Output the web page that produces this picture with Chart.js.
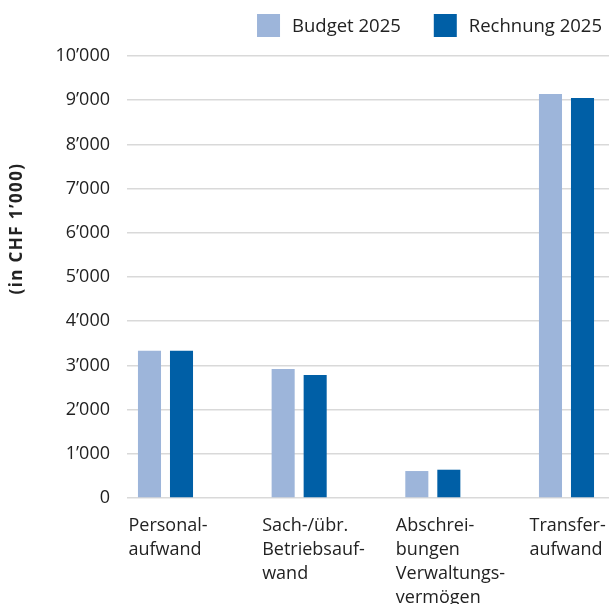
<!DOCTYPE html>
<html>
<head>
<meta charset="utf-8">
<script src="https://cdn.jsdelivr.net/npm/chart.js@4.4.1/dist/chart.umd.min.js"></script>
<style>
  html, body { margin: 0; padding: 0; background: #fff; overflow: hidden; }
  #wrap { width: 609px; height: 604px; position: relative; }
</style>
</head>
<body>
<div id="wrap"><canvas id="barCanvas"></canvas></div>
<script>
// Daten (in CHF 1'000)
const categories = [
    ['Personal-', 'aufwand'],
    ['Sach-/übr.', 'Betriebsauf-', 'wand'],
    ['Abschrei-', 'bungen', 'Verwaltungs-', 'vermögen'],
    ['Transfer-', 'aufwand']
];
const budget2025 = [3330, 2920, 610, 9140];
const rechnung2025 = [3330, 2780, 640, 9050];
const yTicks = [0, 1000, 2000, 3000, 4000, 5000, 6000, 7000, 8000, 9000, 10000];

const FONT = "'Open Sans', 'Noto Sans', sans-serif";
const TEXT = '#222222';

// titre de l'axe y, dessiné à la main pour le placer comme l'original
const yTitlePlugin = {
    id: 'yTitle',
    afterDraw(chart) {
        const ctx = chart.ctx;
        ctx.save();
        ctx.translate(17, 228.5);
        ctx.rotate(-Math.PI / 2);
        ctx.font = 'bold 17px ' + FONT;
        ctx.letterSpacing = '1.4px';
        ctx.fillStyle = TEXT;
        ctx.textAlign = 'center';
        ctx.textBaseline = 'middle';
        ctx.fillText('(in CHF 1’000)', 0, 0);
        ctx.restore();
    }
};

// légende alignée à droite, comme dans l'original
const legendPlugin = {
    id: 'rightLegend',
    afterDraw(chart) {
        const ctx = chart.ctx;
        ctx.save();
        ctx.font = '18.5px ' + FONT;
        ctx.textBaseline = 'middle';
        ctx.textAlign = 'left';
        let right = 602;
        const box = 23, gap = 12, between = 33, cy = 25.5;
        const ds = chart.data.datasets.slice().reverse();
        ds.forEach(d => {
            const w = ctx.measureText(d.label).width;
            const tx = right - w;
            ctx.fillStyle = TEXT;
            ctx.fillText(d.label, tx, cy + 1);
            ctx.fillStyle = d.backgroundColor;
            ctx.fillRect(tx - gap - box, cy - box / 2, box, box);
            right = tx - gap - box - between;
        });
        ctx.restore();
    }
};

function fmt(v) {
    return String(v).replace(/\B(?=(\d{3})+(?!\d))/g, '’');
}

const ctx = document.getElementById('barCanvas').getContext('2d');
const myChart = new Chart(ctx, {
    type: 'bar',
    data: {
        datasets: [{
            label: 'Budget 2025',
            data: budget2025.map((v, i) => ({ x: i, y: v })),
            backgroundColor: '#9db5da'
        }, {
            label: 'Rechnung 2025',
            data: rechnung2025.map((v, i) => ({ x: i, y: v })),
            backgroundColor: '#005fa6'
        }]
    },
    plugins: [yTitlePlugin, legendPlugin],
    options: {
        responsive: true,
        maintainAspectRatio: false,
        animation: false,
        categoryPercentage: 0.479,
        barPercentage: 0.72,
        layout: { padding: { top: 56, right: 0, left: 0, bottom: 0 } },
        plugins: {
            legend: { display: false },
            tooltip: { enabled: false }
        },
        scales: {
            x: {
                type: 'linear',
                offset: false,
                min: -0.288,
                max: 3.318,
                grid: { display: false },
                border: { display: false },
                afterBuildTicks(scale) {
                    scale.ticks = categories.map((c, i) => ({ value: i }));
                },
                afterFit(scale) {
                    scale.height = 106;
                    scale.paddingLeft = 0;
                    scale.paddingRight = 0;
                },
                ticks: {
                    align: 'start',
                    labelOffset: -37,
                    padding: 8,
                    autoSkip: false,
                    maxRotation: 0,
                    color: TEXT,
                    font: { family: FONT, size: 18, lineHeight: 24 / 18 },
                    callback: (v) => categories[v]
                }
            },
            y: {
                min: 0,
                max: 10000,
                afterBuildTicks(scale) {
                    scale.ticks = yTicks.map(v => ({ value: v }));
                },
                afterFit(scale) {
                    scale.width = 127;
                },
                border: { display: false },
                grid: { color: '#d9d9d9', lineWidth: 1.5, drawTicks: false },
                ticks: {
                    padding: 17,
                    color: TEXT,
                    font: { family: FONT, size: 18 },
                    callback: (v) => fmt(v)
                }
            }
        }
    }
});
</script>
</body>
</html>
